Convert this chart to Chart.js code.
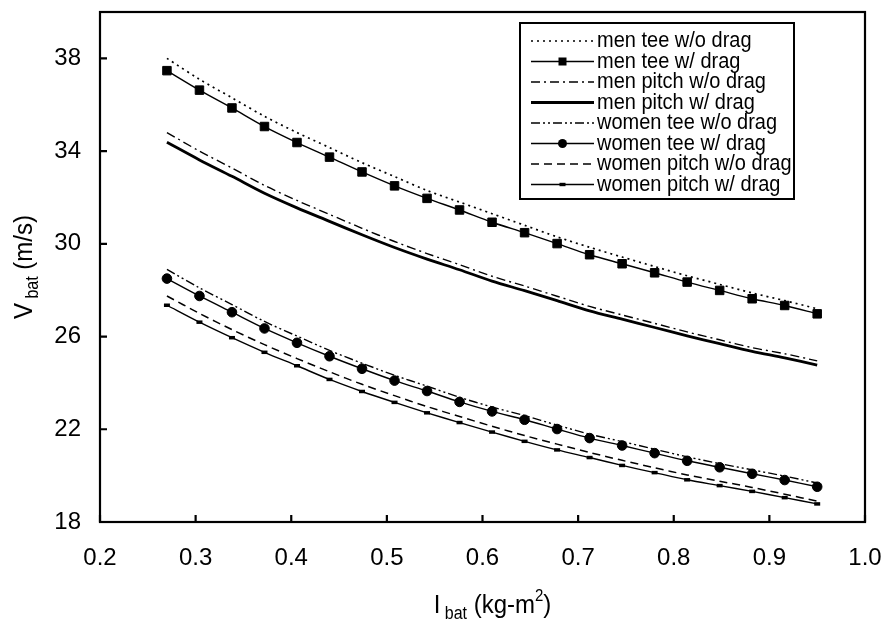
<!DOCTYPE html>
<html>
<head>
<meta charset="utf-8">
<script src="https://cdn.jsdelivr.net/npm/chart.js"></script>
<style>
  body { margin: 0; background: #fff; }
  #wrap { width: 885px; height: 629px; }
</style>
</head>
<body>
<div id="wrap"><canvas id="bat_speed_chart" width="885" height="629"></canvas></div>
<script>
const FONT = '"Liberation Sans", Arial, Helvetica, sans-serif';

// bat moment of inertia (kg-m^2)
var iBat = [0.27, 0.304, 0.338, 0.372, 0.406, 0.44, 0.474, 0.508, 0.542, 0.576, 0.61,
            0.644, 0.678, 0.712, 0.746, 0.78, 0.814, 0.848, 0.882, 0.916, 0.95];

// bat speed (m/s)
var menTeeNoDrag = [38.0, 37.1, 36.3, 35.5, 34.8, 34.15, 33.5, 32.9, 32.3, 31.8, 31.3,
                    30.8, 30.3, 29.85, 29.43, 29.02, 28.62, 28.25, 27.88, 27.55, 27.2];
var menTeeDrag = [37.47, 36.63, 35.86, 35.06, 34.37, 33.74, 33.10, 32.50, 31.96, 31.46, 30.93,
                  30.48, 30.01, 29.53, 29.14, 28.75, 28.35, 27.99, 27.63, 27.34, 26.98];
var menPitchNoDrag = [34.8, 34.0, 33.27, 32.52, 31.87, 31.27, 30.67, 30.1, 29.58, 29.1, 28.6,
                      28.18, 27.74, 27.3, 26.93, 26.57, 26.2, 25.86, 25.52, 25.26, 24.95];
var menPitchDrag = [34.38, 33.62, 32.91, 32.18, 31.55, 30.97, 30.39, 29.84, 29.34, 28.88, 28.39,
                    27.98, 27.55, 27.11, 26.75, 26.39, 26.03, 25.69, 25.36, 25.08, 24.77];
var womenTeeNoDrag = [28.9, 28.1, 27.38, 26.65, 26.02, 25.4, 24.85, 24.33, 23.86, 23.38, 22.96,
                      22.59, 22.18, 21.79, 21.47, 21.14, 20.81, 20.52, 20.25, 19.98, 19.68];
var womenTeeDrag = [28.5, 27.75, 27.05, 26.35, 25.73, 25.15, 24.61, 24.10, 23.65, 23.18, 22.77,
                    22.41, 22.01, 21.62, 21.30, 20.97, 20.64, 20.36, 20.08, 19.81, 19.52];
var womenPitchNoDrag = [27.75, 27.0, 26.3, 25.65, 25.05, 24.48, 23.94, 23.45, 22.98, 22.55, 22.13,
                        21.73, 21.36, 21.0, 20.66, 20.34, 20.03, 19.76, 19.49, 19.2, 18.9];
var womenPitchDrag = [27.35, 26.62, 25.95, 25.32, 24.74, 24.15, 23.63, 23.16, 22.71, 22.29, 21.88,
                      21.48, 21.11, 20.78, 20.44, 20.13, 19.82, 19.57, 19.32, 19.05, 18.78];

var xTicks = [0.2, 0.3, 0.4, 0.5, 0.6, 0.7, 0.8, 0.9, 1.0];
var yTicks = [18, 22, 26, 30, 34, 38];

function points(values) {
    return values.map(function (v, k) { return { x: iBat[k], y: v }; });
}

function series(label, values, style) {
    return Object.assign({
        label: label,
        data: points(values),
        borderColor: '#000',
        backgroundColor: '#000',
        pointBorderColor: '#000',
        pointBackgroundColor: '#000',
        borderWidth: 1.4,
        borderDash: [],
        pointRadius: 0,
        pointStyle: 'circle',
        pointBorderWidth: 1,
        tension: 0.3,
        fill: false
    }, style);
}

var datasets = [
    series('men tee w/o drag', menTeeNoDrag, { borderDash: [2, 4], borderWidth: 1.7 }),
    series('men tee w/ drag', menTeeDrag, { pointStyle: 'rect', pointRadius: 6 }),
    series('men pitch w/o drag', menPitchNoDrag, { borderDash: [9, 4, 2, 4] }),
    series('men pitch w/ drag', menPitchDrag, { borderWidth: 2.8 }),
    series('women tee w/o drag', womenTeeNoDrag, { borderDash: [9, 3, 2, 3, 2, 3] }),
    series('women tee w/ drag', womenTeeDrag, { pointStyle: 'circle', pointRadius: 4.8 }),
    series('women pitch w/o drag', womenPitchNoDrag, { borderDash: [8, 5], borderWidth: 1.5 }),
    series('women pitch w/ drag', womenPitchDrag, { pointStyle: 'line', pointRadius: 3, pointBorderWidth: 3.5 })
];

// box round the plot, inward tick marks
var framePlugin = {
    id: 'frame',
    afterDraw: function (chart) {
        var ctx = chart.ctx, a = chart.chartArea;
        var xs = chart.scales.x, ys = chart.scales.y;
        ctx.save();
        ctx.strokeStyle = '#000';
        ctx.lineWidth = 2.2;
        ctx.setLineDash([]);
        ctx.strokeRect(a.left, a.top, a.right - a.left, a.bottom - a.top);
        ctx.beginPath();
        xTicks.forEach(function (t) {
            var px = xs.getPixelForValue(t);
            ctx.moveTo(px, a.bottom);
            ctx.lineTo(px, a.bottom - 7);
        });
        yTicks.forEach(function (t) {
            var py = ys.getPixelForValue(t);
            ctx.moveTo(a.left, py);
            ctx.lineTo(a.left + 7, py);
        });
        ctx.stroke();
        ctx.restore();
    }
};

// axis titles with subscript / superscript
function drawRuns(ctx, runs, x, y) {
    var total = 0;
    runs.forEach(function (r) {
        ctx.font = r.size + 'px ' + FONT;
        r.w = ctx.measureText(r.text).width;
        total += r.w;
    });
    var cx = x - total / 2;
    runs.forEach(function (r) {
        ctx.font = r.size + 'px ' + FONT;
        ctx.fillText(r.text, cx, y + (r.dy || 0));
        cx += r.w;
    });
}

var titlePlugin = {
    id: 'axisTitles',
    afterDraw: function (chart) {
        var ctx = chart.ctx, a = chart.chartArea;
        ctx.save();
        ctx.fillStyle = '#000';
        ctx.textBaseline = 'alphabetic';
        ctx.textAlign = 'left';
        ctx.translate((a.left + a.right) / 2 + 10, 613);
        ctx.scale(1, 1.1);
        drawRuns(ctx, [
            { text: 'I', size: 24 },
            { text: ' bat', size: 16, dy: 5 },
            { text: ' (kg-m', size: 24 },
            { text: '2', size: 15, dy: -11 },
            { text: ')', size: 24 }
        ], 0, 0);
        ctx.restore();
        ctx.save();
        ctx.fillStyle = '#000';
        ctx.translate(32, (a.top + a.bottom) / 2);
        ctx.rotate(-Math.PI / 2);
        ctx.scale(1, 1.1);
        drawRuns(ctx, [
            { text: 'V', size: 24 },
            { text: ' bat', size: 16, dy: 5 },
            { text: ' (m/s)', size: 24 }
        ], 0, 0);
        ctx.restore();
    }
};

// boxed legend inside the plot
var legendPlugin = {
    id: 'boxLegend',
    afterDraw: function (chart) {
        var ctx = chart.ctx;
        var left = 520, top = 23, width = 274, rowH = 20.5;
        var height = rowH * datasets.length + 12;
        ctx.save();
        ctx.fillStyle = '#fff';
        ctx.fillRect(left, top, width, height);
        ctx.strokeStyle = '#000';
        ctx.lineWidth = 2;
        ctx.strokeRect(left, top, width, height);
        datasets.forEach(function (ds, k) {
            var y = top + 18 + k * rowH;
            var x1 = left + 11, x2 = left + 74, xm = (x1 + x2) / 2;
            ctx.strokeStyle = '#000';
            ctx.fillStyle = '#000';
            ctx.lineWidth = ds.borderWidth;
            ctx.setLineDash(ds.borderDash);
            ctx.beginPath();
            ctx.moveTo(x1, y);
            ctx.lineTo(x2, y);
            ctx.stroke();
            ctx.setLineDash([]);
            if (ds.pointRadius > 0) {
                if (ds.pointStyle === 'rect') {
                    ctx.fillRect(xm - 4, y - 4, 8, 8);
                } else if (ds.pointStyle === 'circle') {
                    ctx.beginPath();
                    ctx.arc(xm, y, 4.5, 0, Math.PI * 2);
                    ctx.fill();
                } else {
                    ctx.fillRect(xm - 3, y - 1.7, 6, 3.4);
                }
            }
            // slightly tall lettering
            ctx.save();
            ctx.translate(x2 + 3, y);
            ctx.scale(1, 1.12);
            ctx.font = '20px ' + FONT;
            ctx.textBaseline = 'middle';
            ctx.fillText(ds.label, 0, 0);
            ctx.restore();
        });
        ctx.restore();
    }
};

var bat_speed_chart = new Chart(document.getElementById('bat_speed_chart'), {
    type: 'line',
    data: { datasets: datasets },
    options: {
        responsive: false,
        animation: false,
        events: [],
        layout: { padding: { top: 12, right: 20, left: 0, bottom: 0 } },
        plugins: {
            legend: { display: false },
            tooltip: { enabled: false }
        },
        scales: {
            x: {
                type: 'linear',
                min: 0.2,
                max: 1.0,
                grid: { display: false, drawTicks: false },
                border: { display: false },
                afterBuildTicks: function (scale) {
                    scale.ticks = xTicks.map(function (v) { return { value: v }; });
                },
                afterFit: function (scale) {
                    scale.height = 107;
                    scale.paddingLeft = 0;
                    scale.paddingRight = 0;
                },
                ticks: {
                    color: '#000',
                    padding: 22,
                    maxRotation: 0,
                    font: { family: FONT, size: 24 },
                    callback: function (v) { return v.toFixed(1); }
                }
            },
            y: {
                min: 18,
                max: 40,
                grid: { display: false, drawTicks: false },
                border: { display: false },
                afterBuildTicks: function (scale) {
                    scale.ticks = yTicks.map(function (v) { return { value: v }; });
                },
                afterFit: function (scale) {
                    scale.width = 100;
                    scale.paddingTop = 0;
                    scale.paddingBottom = 0;
                },
                ticks: {
                    color: '#000',
                    padding: 19,
                    font: { family: FONT, size: 24 },
                    callback: function (v) { return String(v); }
                }
            }
        }
    },
    plugins: [framePlugin, titlePlugin, legendPlugin]
});
</script>
</body>
</html>
